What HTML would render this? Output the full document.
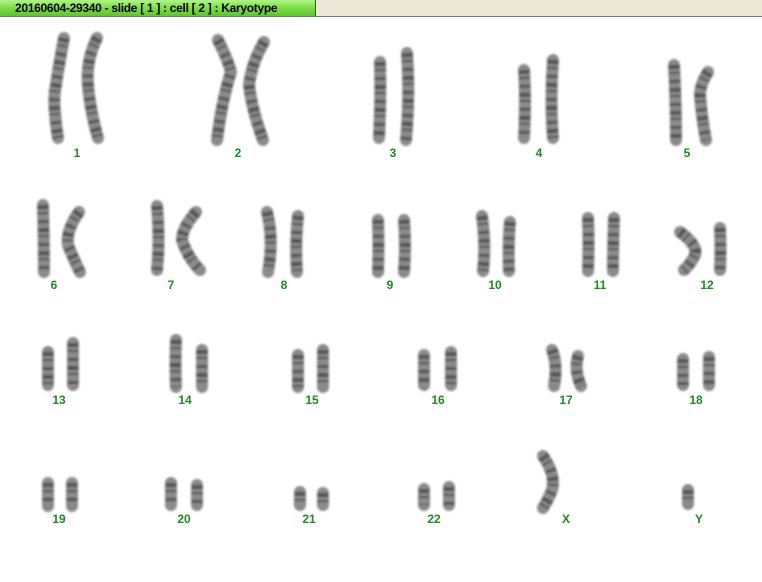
<!DOCTYPE html>
<html><head><meta charset="utf-8"><style>
html,body{margin:0;padding:0;background:#fff;width:762px;height:582px;overflow:hidden;font-family:"Liberation Sans",Arial,sans-serif}
#hdr{position:absolute;left:0;top:0;width:762px;height:16px;background:#ece9d8;border-bottom:1px solid #7a7a70}
#tab{position:absolute;left:0;top:0;width:316px;height:16px;background:linear-gradient(#b0f484,#74d840 60%,#5cc62c);border-right:1px solid #2a6a10;font-size:12px;font-weight:bold;line-height:16px;color:#000;padding-left:15px;box-sizing:border-box;letter-spacing:-0.3px}
svg{position:absolute;left:0;top:0}
.c{fill:none;stroke:#8a8a8a;stroke-linecap:round;stroke-linejoin:round;stroke-width:12}
.b{fill:none;stroke:#333;stroke-linecap:butt;stroke-linejoin:round;stroke-width:11;stroke-dasharray:4 3 2 6 3 5;opacity:.6}
text{font-family:"Liberation Sans",Arial,sans-serif;font-size:12px;font-weight:bold;fill:#1f8a1f;text-anchor:middle}
</style></head><body>
<div id="hdr"><div id="tab">20160604-29340 - slide [ 1 ] : cell [ 2 ] : Karyotype</div></div>
<svg width="762" height="582" viewBox="0 0 762 582">
<defs>
<filter id="bl" x="-50%" y="-50%" width="200%" height="200%"><feGaussianBlur stdDeviation="1"/></filter>
<g id="ch">
<path d="M64 38 Q58 70 56 85 Q52 100 58 138"/>
<path d="M97 38 Q86 60 88 85 Q90 110 98 138"/>
<path d="M218 40 Q228 60 231 72 Q222 100 217 140"/>
<path d="M264 42 Q252 62 249 85 Q252 110 263 140"/>
<path d="M380 62 Q381 100 379 138"/>
<path d="M407 53 Q410 95 406 140"/>
<path d="M524 70 Q526 100 524 138"/>
<path d="M553 60 Q550 100 553 138"/>
<path d="M674 65 Q676 100 676 140"/>
<path d="M708 72 Q700 85 700 95 Q702 120 706 140"/>
<path d="M43 205 Q44 240 44 272"/>
<path d="M79 212 Q66 230 68 245 Q74 260 80 272"/>
<path d="M157 206 Q160 240 157 270"/>
<path d="M196 212 Q182 228 182 240 Q188 258 200 270"/>
<path d="M267 212 Q274 240 268 272"/>
<path d="M298 216 Q295 245 297 272"/>
<path d="M378 220 Q379 245 378 272"/>
<path d="M404 220 Q406 245 404 272"/>
<path d="M482 216 Q486 245 483 271"/>
<path d="M510 222 Q508 245 509 271"/>
<path d="M588 218 Q589 245 588 271"/>
<path d="M614 218 Q613 245 613 271"/>
<path d="M680 232 Q698 245 695 255 Q690 265 684 270"/>
<path d="M720 228 Q721 250 720 270"/>
<path d="M48 352 L48 385"/>
<path d="M73 343 L73 385"/>
<path d="M176 340 Q175 365 176 387"/>
<path d="M202 350 L202 387"/>
<path d="M298 355 L298 387"/>
<path d="M323 350 L323 387"/>
<path d="M424 355 L424 385"/>
<path d="M451 352 L451 385"/>
<path d="M552 350 Q558 365 554 386"/>
<path d="M578 356 Q574 370 581 386"/>
<path d="M683 359 L683 385"/>
<path d="M709 357 L709 385"/>
<path d="M48 483 L48 506"/>
<path d="M72 483 L72 506"/>
<path d="M171 483 L171 505"/>
<path d="M197 485 L197 505"/>
<path d="M300 492 L300 505"/>
<path d="M323 493 L323 505"/>
<path d="M424 489 L424 505"/>
<path d="M449 487 L449 505"/>
<path d="M543 456 Q556 475 552 490 Q548 500 543 508"/>
<path d="M688 490 L688 504"/>
</g>
</defs>
<g filter="url(#bl)">
<use href="#ch" class="c"/>
<use href="#ch" class="b"/>
</g>
<text x="77" y="157">1</text><text x="238" y="157">2</text><text x="393" y="157">3</text><text x="539" y="157">4</text><text x="687" y="157">5</text>
<text x="54" y="289">6</text><text x="171" y="289">7</text><text x="284" y="289">8</text><text x="390" y="289">9</text><text x="495" y="289">10</text><text x="600" y="289">11</text><text x="707" y="289">12</text>
<text x="59" y="404">13</text><text x="185" y="404">14</text><text x="312" y="404">15</text><text x="438" y="404">16</text><text x="566" y="404">17</text><text x="696" y="404">18</text>
<text x="59" y="523">19</text><text x="184" y="523">20</text><text x="309" y="523">21</text><text x="434" y="523">22</text><text x="566" y="523">X</text><text x="699" y="523">Y</text>
</svg>
</body></html>
